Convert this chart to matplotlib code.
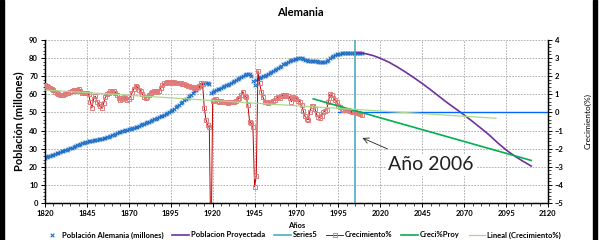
import matplotlib
matplotlib.use("Agg")
import matplotlib.pyplot as plt
from matplotlib.ticker import MultipleLocator
from matplotlib.patches import Rectangle

plt.rcParams['font.family'] = ['Lato', 'DejaVu Sans']

# Poblacion Alemania (millones), one value per year 1820-2009
pop_years = list(range(1820, 2010))
pop_values = [
    25.0, 25.3, 25.7, 26.0, 26.4, 26.7, 27.1, 27.4, 27.8, 28.1,   # 1820-1829
    28.5, 28.8, 29.1, 29.5, 29.8, 30.2, 30.6, 31.0, 31.4, 31.8,   # 1830-1839
    32.2, 32.6, 33.0, 33.3, 33.6, 33.9, 34.1, 34.2, 34.4, 34.6,   # 1840-1849
    34.8, 35.0, 35.2, 35.4, 35.6, 35.8, 36.0, 36.3, 36.6, 37.0,   # 1850-1859
    37.4, 37.8, 38.2, 38.6, 39.0, 39.4, 39.7, 39.9, 40.1, 40.3,   # 1860-1869
    40.6, 40.9, 41.2, 41.5, 41.8, 42.2, 42.6, 43.0, 43.4, 43.8,   # 1870-1879
    44.2, 44.6, 45.0, 45.4, 45.8, 46.2, 46.6, 47.0, 47.4, 47.8,   # 1880-1889
    48.2, 48.7, 49.2, 49.7, 50.2, 50.8, 51.4, 52.1, 52.8, 53.5,   # 1890-1899
    54.2, 55.0, 55.8, 56.6, 57.4, 58.2, 59.0, 59.9, 60.8, 61.7,   # 1900-1909
    62.6, 63.5, 64.4, 65.3, 66.2, 66.4, 66.5, 66.3, 65.5, 61.0,   # 1910-1919
    61.5, 62.0, 62.4, 62.8, 63.2, 63.6, 64.1, 64.5, 65.0, 65.4,   # 1920-1929
    65.9, 66.4, 66.8, 67.3, 67.8, 68.3, 68.8, 69.3, 69.9, 70.5,   # 1930-1939
    71.1, 71.3, 71.0, 70.2, 67.5, 65.0, 68.0, 68.5, 69.0, 69.5,   # 1940-1949
    69.9, 70.3, 70.7, 71.2, 71.7, 72.2, 72.7, 73.3, 73.9, 74.6,   # 1950-1959
    75.3, 75.9, 76.5, 77.0, 77.5, 78.0, 78.5, 78.8, 79.0, 79.4,   # 1960-1969
    79.6, 79.8, 79.9, 79.9, 79.6, 79.2, 78.8, 78.5, 78.3, 78.3,   # 1970-1979
    78.4, 78.4, 78.2, 77.9, 77.7, 77.6, 77.7, 77.8, 78.2, 78.9,   # 1980-1989
    79.8, 80.5, 81.1, 81.6, 82.0, 82.2, 82.4, 82.6, 82.6, 82.7,   # 1990-1999
    82.8, 82.9, 83.0, 83.0, 83.0, 82.9, 82.9, 82.8, 82.7, 82.6,   # 2000-2009
]

# Crecimiento % per year 1820-2009
growth_values = [
    1.50, 1.45, 1.40, 1.35, 1.30, 1.25, 1.15, 1.05, 1.00, 0.95,   # 1820
    0.95, 0.95, 1.00, 1.05, 1.10, 1.15, 1.20, 1.25, 1.20, 1.25,   # 1830
    1.30, 1.20, 1.10, 1.10, 1.05, 1.10, 1.00, 0.60, 0.25, 0.75,   # 1840
    0.90, 0.60, 0.45, 0.35, 0.25, 0.50, 0.85, 1.00, 1.10, 1.20,   # 1850
    1.15, 1.20, 1.10, 0.95, 0.80, 0.70, 0.75, 0.85, 0.80, 0.70,   # 1860
    0.75, 0.85, 1.10, 1.30, 1.45, 1.40, 1.25, 1.20, 1.00, 0.85,   # 1870
    0.80, 0.85, 0.95, 1.10, 1.15, 1.20, 1.20, 1.15, 1.20, 1.35,   # 1880
    1.50, 1.60, 1.65, 1.70, 1.70, 1.65, 1.70, 1.70, 1.65, 1.65,   # 1890
    1.60, 1.60, 1.55, 1.55, 1.50, 1.45, 1.45, 1.40, 1.40, 1.35,   # 1900
    1.35, 1.40, 1.45, 1.60, 1.55, 0.25, -0.40, -0.67, -0.80, -8.0,  # 1910
    0.65, 0.70, 0.75, 0.65, 0.60, 0.65, 0.60, 0.55, 0.55, 0.50,   # 1920
    0.55, 0.60, 0.60, 0.55, 0.65, 0.75, 0.80, 0.95, 1.15, 0.90,   # 1930
    0.85, 0.40, -0.50, -0.60, -0.80, -4.10, -3.50, 2.30, 1.60, 1.15,  # 1940
    0.85, 0.60, 0.55, 0.50, 0.55, 0.60, 0.65, 0.70, 0.80, 0.85,   # 1950
    0.80, 0.90, 0.95, 0.90, 0.95, 0.90, 0.80, 0.60, 0.85, 0.80,   # 1960
    0.75, 0.65, 0.60, 0.40, 0.10, -0.20, -0.35, -0.40, 0.05, 0.35,  # 1970
    0.35, 0.20, -0.10, -0.25, -0.30, -0.20, 0.00, 0.10, 0.15, 0.60,  # 1980
    1.00, 0.95, 0.80, 0.70, 0.55, 0.35, 0.30, 0.20, 0.15, 0.15,   # 1990
    0.15, 0.12, 0.10, 0.05, 0.05, 0.00, -0.05, -0.05, -0.10, -0.12,  # 2000
]

# Poblacion Proyectada (millones)
proj_years = [2006, 2008, 2012, 2016, 2020, 2025, 2030, 2035, 2040, 2045, 2050, 2055,
              2060, 2065, 2070, 2075, 2080, 2085, 2090, 2095, 2100, 2105, 2110]
proj_values = [82.9, 82.9, 82.3, 81.3, 79.9, 77.8, 75.2, 72.3, 69.2, 66.0, 62.5, 58.9,
               55.3, 52.0, 48.6, 45.0, 41.3, 37.5, 33.2, 29.3, 26.0, 23.1, 20.4]

# Creci%Proy
proy_years = [1980, 2110]
proy_values = [0.75, -2.65]

# Lineal (Crecimiento%)
trend_years = [1820, 2089]
trend_values = [1.24, -0.32]

# Series5 (Año 2006 marker) and zero line
series5_year = 2005
zero_years = [1995, 2125]
zero_values = [0, 0]

W, H = 601, 240
fig = plt.figure(figsize=(W / 100, H / 100), dpi=100)
ax = fig.add_axes([45 / W, 1 - 203 / H, 503 / W, 163 / H])
ax2 = ax.twinx()

grid_kw = dict(color='#a6a6a6', lw=0.6, ls=(0, (2, 1.5)))
ax.set_xlim(1820, 2120)
ax.set_ylim(0, 90)
ax2.set_ylim(-5, 4)
ax.set_xticks(range(1820, 2121, 25))
ax.set_xticks(range(1820, 2121, 5), minor=True)
ax.yaxis.set_major_locator(MultipleLocator(10))
ax.yaxis.set_minor_locator(MultipleLocator(2))
ax2.yaxis.set_major_locator(MultipleLocator(1))
ax2.yaxis.set_minor_locator(MultipleLocator(0.2))
ax.grid(True, which='major', **grid_kw)
ax.set_axisbelow(True)

ax.scatter(pop_years, pop_values, marker='x', s=7, lw=0.8, color='#1f6fc5', zorder=3,
           label='Población Alemania (millones)')
ax.plot(proj_years, proj_values, color='#7030a0', lw=1.2, zorder=3, label='Poblacion Proyectada')
ax.axvline(series5_year, color='#4bacc6', lw=1.2, zorder=3, label='Series5')

ax2.plot(zero_years, zero_values, color='#0066ff', lw=1.0, zorder=2)
ax2.plot(pop_years, growth_values, color='#c00000', lw=0.7, marker='s', ms=3.5,
         mfc='none', mec='#e07b7b', mew=0.7, zorder=3, label='Crecimiento%')
ax2.plot(proy_years, proy_values, color='#00b050', lw=1.2, zorder=4, label='Creci%Proy')
ax2.plot(trend_years, trend_values, color='#a9d98a', lw=0.9, zorder=4, label='Lineal (Crecimiento%)')

ax2.annotate('', xy=(2007.8, -1.35), xytext=(2025.7, -2.07),
             arrowprops=dict(arrowstyle='->', lw=0.6, color='#202020'))
ax2.text(2050, -2.9, 'Año 2006', fontsize=14, ha='center', va='center', color='#202020',
         bbox=dict(facecolor='white', edgecolor='none', pad=1.5), zorder=5)

for a in (ax, ax2):
    a.spines['top'].set_visible(False)
    for s in a.spines.values():
        s.set_linewidth(0.9)
ax.tick_params(axis='both', which='major', labelsize=5.5, length=3, width=0.7, pad=2)
ax.tick_params(axis='both', which='minor', length=1.8, width=0.5)
ax2.tick_params(axis='y', which='major', labelsize=5.5, length=3, width=0.7, pad=2)
ax2.tick_params(axis='y', which='minor', length=1.8, width=0.5)
for lab in ax.get_xticklabels() + ax.get_yticklabels() + ax2.get_yticklabels():
    lab.set_fontweight('bold')

fig.text(300 / W, 1 - 13 / H, 'Alemania', fontsize=8, fontweight='bold', ha='center', va='center')
fig.text(297 / W, 1 - 226 / H, 'Años', fontsize=5.5, fontweight='bold', ha='center', va='center')
fig.text(19 / W, 1 - 121 / H, 'Población (millones)', fontsize=8, fontweight='bold',
         rotation=90, ha='center', va='center')
fig.text(588 / W, 1 - 121 / H, 'Crecimiento(%)', fontsize=6, rotation=90, ha='center', va='center')

h1, l1 = ax.get_legend_handles_labels()
h2, l2 = ax2.get_legend_handles_labels()
fig.legend(h1 + h2, l1 + l2, loc='center', bbox_to_anchor=(302 / W, 1 - 235 / H), ncol=6,
           frameon=False, prop={'size': 5.5, 'weight': 'bold'}, handlelength=2.2,
           handletextpad=0.2, columnspacing=1.2, borderaxespad=0, borderpad=0)

fig.add_artist(Rectangle((0, 0), 4 / W, 1, transform=fig.transFigure, color='black'))
fig.add_artist(Rectangle((593 / W, 0), 4 / W, 1, transform=fig.transFigure, color='black'))

fig.savefig('out.png', dpi=100)
